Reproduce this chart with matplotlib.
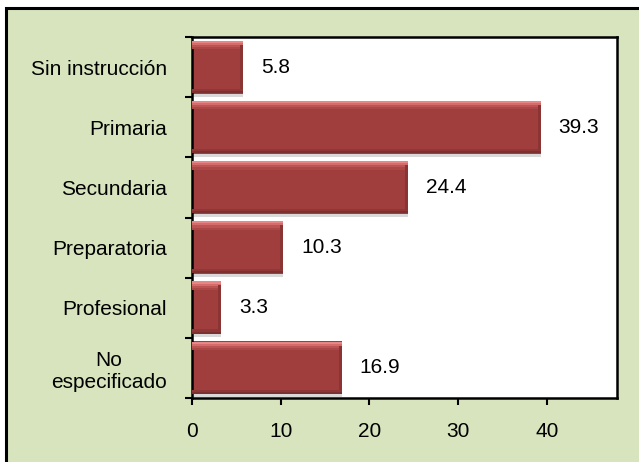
import matplotlib

matplotlib.use("Agg")

import matplotlib.pyplot as plt
import numpy as np
from matplotlib.patches import Rectangle

plt.rcParams["font.family"] = ["Liberation Sans", "DejaVu Sans"]

categories = ["Sin instrucción", "Primaria", "Secundaria", "Preparatoria", "Profesional", "No\nespecificado"]
values = [5.8, 39.3, 24.4, 10.3, 3.3, 16.9]
x_ticks = [0, 10, 20, 30, 40]

BG_GREEN = "#d7e4bd"
BAR_RED = "#a03e3e"
BAR_DARK = "#7d3030"

fig = plt.figure(figsize=(6.39, 4.62), dpi=100)
fig.patch.set_facecolor("white")

# green chart area with black frame (right/bottom edges cut off in the original)
fig.patches.append(Rectangle((0.0094, -0.1), 1.2, 1.0827, transform=fig.transFigure,
                             facecolor=BG_GREEN, edgecolor="black", linewidth=2.2, zorder=-1))

ax = fig.add_axes([0.3005, 0.1385, 0.665, 0.7814])
ax.set_facecolor("white")

pos = np.arange(len(categories))
height = 0.88

# soft shadow under each bar
ax.barh(pos + 0.05, values, height=height, color="#a0a0a0", alpha=0.4, zorder=1)
ax.barh(pos, values, height=height, color=BAR_RED, zorder=2)

# bevel: light top edge fading into the bar colour, darker bottom edge
top_shades = ["#e88585", "#d46c6c", "#bd5454", "#ab4747"]
for i, shade in enumerate(top_shades):
    ax.barh(pos - height / 2 + 0.02 + i * 0.035, values, height=0.035, color=shade, zorder=3)
bottom_shades = ["#8f3737", "#7d3030"]
for i, shade in enumerate(bottom_shades):
    ax.barh(pos + height / 2 - 0.0625 + i * 0.035, values, height=0.035, color=shade, zorder=3)
# darker right end cap
ax.barh(pos, [0.35] * len(values), left=[v - 0.35 for v in values], height=height - 0.14,
        color="#8a3434", zorder=3)

for p, v in zip(pos, values):
    ax.text(v + 2.0, p, f"{v:.1f}", va="center", ha="left", fontsize=15, color="black")

ax.set_xlim(0, 47.9)
ax.set_ylim(len(categories) - 0.5, -0.5)
ax.set_xticks(x_ticks)
ax.set_xticklabels([str(t) for t in x_ticks])
ax.set_yticks(pos)
ax.set_yticklabels(categories, multialignment="center")
ax.set_yticks(np.arange(len(categories) + 1) - 0.5, minor=True)

ax.tick_params(axis="y", which="major", length=0, pad=18, labelsize=15)
ax.tick_params(axis="y", which="minor", length=5, width=1.5, direction="out")
ax.tick_params(axis="x", which="major", length=5, width=1.5, direction="out", pad=12, labelsize=15)

for spine in ax.spines.values():
    spine.set_color("black")
    spine.set_linewidth(1.8)

fig.savefig("out.png", dpi=100, facecolor=fig.get_facecolor())
plt.close(fig)
